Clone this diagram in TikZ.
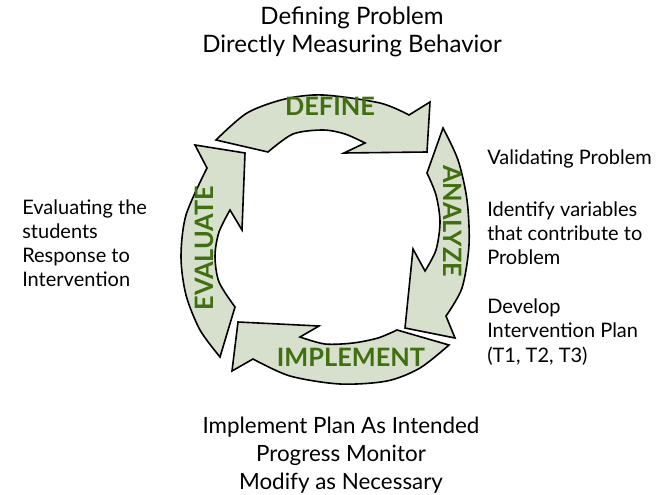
\documentclass[tikz,border=0pt]{standalone}
\usepackage{fontspec}
\setmainfont{Lato}
\usepackage{tikz}

\definecolor{cyclefill}{HTML}{D7E0CC}
\definecolor{cyclegreen}{HTML}{3F6F0E}

\begin{document}
\begin{tikzpicture}[
        x=0.75pt, y=-0.75pt,
        cyclearrow/.style={draw=black, line width=1.2pt, fill=cyclefill, line join=miter},
        stagelabel/.style={text=cyclegreen, inner sep=0pt, font=\fontsize{19}{21}\selectfont\bfseries},
        note/.style={align=left, anchor=north west, inner sep=0pt, font=\fontsize{15}{18}\selectfont},
        caption/.style={align=center, anchor=north, inner sep=0pt, font=\fontsize{18}{21}\selectfont}
      ]
      \useasboundingbox (0,0) rectangle (659,495);

      % the four arrows of the cycle
      \draw[cyclearrow] plot[smooth] coordinates {(216,140) (247,113) (285,99) (323,95) (380,103) (409,115)}
        -- (430,102) -- (427,152) -- (344,153) -- (365,143)
        -- plot[smooth] coordinates {(365,143) (345,134) (323,130) (293,134) (268,152)} -- cycle;

      \draw[cyclearrow] plot[smooth] coordinates {(443,128) (458,160) (467,200) (469,245) (462,288) (446,316)}
        -- (455,338) -- (405,328) -- (413,249) -- (425,271)
        -- plot[smooth] coordinates {(425,271) (436,250) (440,222) (436,195) (427,173)} -- cycle;

      \draw[cyclearrow] plot[smooth] coordinates {(449,345) (420,368) (387,381) (340,384) (290,376) (253,359)}
        -- (232,371) -- (238,322) -- (319,326) -- (300,337)
        -- plot[smooth] coordinates {(300,337) (325,344) (353,343) (378,338) (397,330)} -- cycle;

      \draw[cyclearrow] plot[smooth] coordinates {(220,357) (200,330) (186,295) (181,257) (186,215) (207,168)}
        -- (195,145) -- (245,153) -- (242,230) -- (230,210)
        -- plot[smooth] coordinates {(230,210) (219,232) (215,256) (219,282) (235,307)} -- cycle;

      % stage names
      \node[stagelabel] (define) at (330,106) {DEFINE};
      \node[stagelabel, rotate=-90] (analyze) at (453,221) {ANALYZE};
      \node[stagelabel] (implement) at (351,357) {IMPLEMENT};
      \node[stagelabel, rotate=90] (evaluate) at (204,248) {EVALUATE};

      % texts round the cycle
      \node[caption] (definetext) at (352,7) {Defining Problem\\Directly Measuring Behavior};
      \node[note] (validate) at (487,150) {Validating Problem};
      \node[note] (variables) at (487,202) {Identify variables\\that contribute to\\Problem};
      \node[note] (plan) at (487,299) {Develop\\Intervention Plan\\(T1, T2, T3)};
      \node[note] (evaltext) at (22,200) {Evaluating the\\students\\Response to\\Intervention};
      \node[caption, font=\fontsize{16.8}{21}\selectfont] (implementtext) at (341,417) {Implement Plan As Intended\\Progress Monitor\\Modify as Necessary};
    \end{tikzpicture}
\end{document}
